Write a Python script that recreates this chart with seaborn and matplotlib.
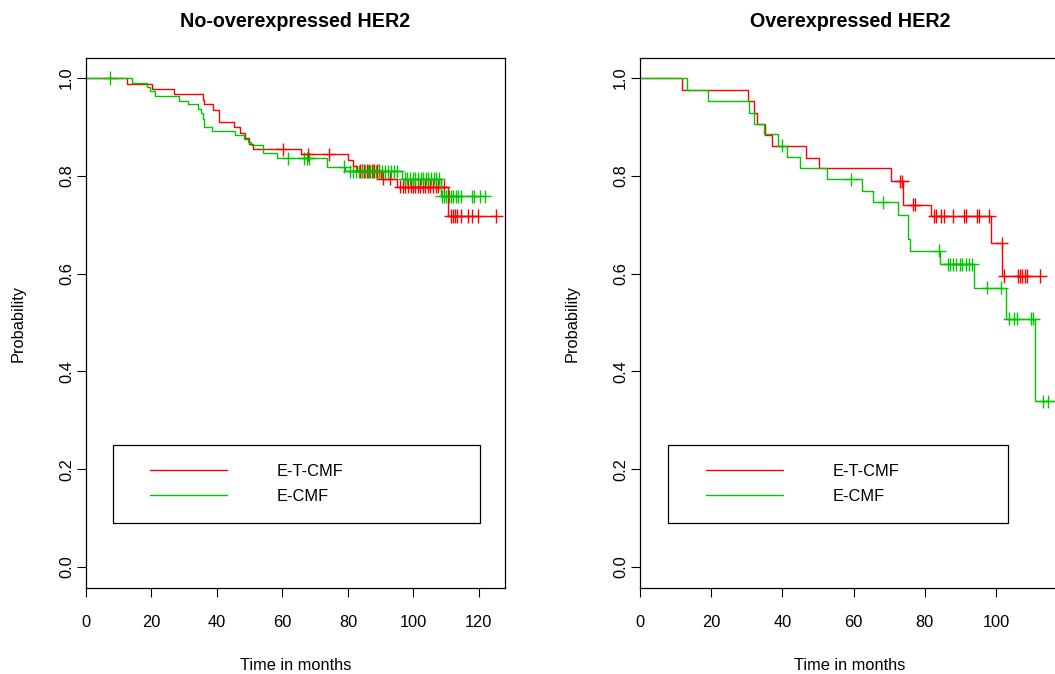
import numpy as np
import pandas as pd
import matplotlib
matplotlib.use("Agg")
import matplotlib.pyplot as plt
from matplotlib.patches import Rectangle
from matplotlib.lines import Line2D
import seaborn as sns

# ---------------- data ----------------
groups = ["E-T-CMF", "E-CMF"]
colors = {"E-T-CMF": "#FF0000", "E-CMF": "#00C800"}
titles = ["No-overexpressed HER2", "Overexpressed HER2"]

# Panel 1: No-overexpressed HER2
neg_etcmf_time = [0, 12.4, 20.3, 27.0, 35.8, 36.2, 38.8, 40.5, 45.1, 47.0, 48.7, 49.9, 51.0,
                  65.8, 80.1, 81.6, 82.8, 90.2, 95.0, 110.6]
neg_etcmf_surv = [1.0, 0.988, 0.977, 0.967, 0.956, 0.946, 0.934, 0.910, 0.899, 0.888, 0.877, 0.866, 0.854,
                  0.844, 0.832, 0.821, 0.810, 0.794, 0.778, 0.718]
neg_etcmf_cens = [60.1, 67.8, 74.1, 83.6, 84.3, 85.0, 85.8, 86.5, 87.3, 88.0, 88.8, 89.5, 90.6, 92.8,
                  96.0, 96.8, 97.6, 98.4, 99.2, 99.9, 100.6, 101.4, 102.1, 102.9, 103.6, 104.4, 105.2,
                  106.0, 106.8, 107.6, 108.5, 109.3, 111.4, 112.0, 112.7, 113.4, 114.7, 116.7, 117.8,
                  119.8, 125.4]

neg_ecmf_time = [0, 14.0, 18.6, 19.6, 21.2, 28.5, 31.2, 34.3, 35.0, 35.8, 36.1, 38.5, 45.6, 48.4,
                 49.5, 50.4, 54.1, 58.2, 73.7, 79.1, 96.4, 108.3]
neg_ecmf_surv = [1.0, 0.990, 0.982, 0.973, 0.963, 0.954, 0.946, 0.936, 0.928, 0.917, 0.900, 0.891, 0.884,
                 0.876, 0.870, 0.864, 0.846, 0.836, 0.819, 0.809, 0.794, 0.758]
neg_ecmf_cens = [7.4, 61.8, 66.6, 67.4, 68.2, 78.8, 80.6, 81.5, 82.4, 83.3, 84.2, 85.1, 86.0, 86.9,
                 87.8, 88.7, 89.6, 90.5, 91.4, 92.3, 93.2, 94.1, 95.0, 97.4, 98.2, 99.0, 99.8, 100.6,
                 101.4, 102.2, 103.0, 103.8, 104.6, 105.4, 106.2, 107.0, 107.8, 108.7, 109.4, 110.1,
                 110.8, 111.5, 112.2, 112.9, 113.6, 114.5, 117.8, 118.5, 120.3, 121.8]

# Panel 2: Overexpressed HER2
pos_etcmf_time = [0, 11.8, 30.4, 31.9, 33.0, 35.1, 37.1, 46.6, 50.2, 70.6, 74.0, 81.7, 98.6, 101.8]
pos_etcmf_surv = [1.0, 0.976, 0.953, 0.929, 0.907, 0.883, 0.860, 0.836, 0.815, 0.789, 0.741, 0.718,
                  0.662, 0.595]
pos_etcmf_cens = [73.1, 73.7, 76.8, 77.4, 82.7, 83.1, 84.7, 85.5, 87.8, 91.1, 91.7, 94.6, 95.3, 98.1,
                  101.6, 102.3, 106.1, 106.7, 107.4, 108.1, 108.8, 112.5]

pos_ecmf_time = [0, 13.1, 19.2, 30.7, 31.9, 34.7, 38.9, 41.3, 44.9, 52.4, 62.3, 65.5, 72.4, 75.4,
                 75.9, 84.4, 93.7, 102.8, 111.0]
pos_ecmf_surv = [1.0, 0.976, 0.953, 0.929, 0.907, 0.885, 0.862, 0.838, 0.816, 0.793, 0.768, 0.746,
                 0.720, 0.671, 0.647, 0.619, 0.571, 0.508, 0.339]
pos_ecmf_cens = [40.0, 59.3, 68.3, 84.1, 86.4, 87.1, 87.8, 88.8, 90.0, 90.6, 91.6, 92.3, 93.4, 97.6,
                 101.4, 103.7, 105.1, 106.0, 109.8, 110.5, 113.1, 114.5, 119.0]

yticks = [0.0, 0.2, 0.4, 0.6, 0.8, 1.0]
xticks = [0, 20, 40, 60, 80, 100, 120]
panel_xmax = [128, 118]

panels = [
    {"E-T-CMF": (neg_etcmf_time, neg_etcmf_surv, neg_etcmf_cens),
     "E-CMF": (neg_ecmf_time, neg_ecmf_surv, neg_ecmf_cens)},
    {"E-T-CMF": (pos_etcmf_time, pos_etcmf_surv, pos_etcmf_cens),
     "E-CMF": (pos_ecmf_time, pos_ecmf_surv, pos_ecmf_cens)},
]


def build_frames(panel):
    step_rows, cens_rows = [], []
    for g in groups:
        t, s, c = panel[g]
        t = np.asarray(t, float)
        s = np.asarray(s, float)
        c = np.asarray(c, float)
        end = max(t[-1], c.max())
        tt = np.append(t, end)
        ss = np.append(s, s[-1])
        step_rows.append(pd.DataFrame({"time": tt, "surv": ss, "group": g}))
        lvl = s[np.searchsorted(t, c, side="right") - 1]
        cens_rows.append(pd.DataFrame({"time": c, "surv": lvl, "group": g}))
    return pd.concat(step_rows, ignore_index=True), pd.concat(cens_rows, ignore_index=True)


# ---------------- style ----------------
sns.set_theme(style="white")
plt.rcParams["font.family"] = ["Liberation Sans", "DejaVu Sans"]
plt.rcParams["font.size"] = 11.8
plt.rcParams["text.color"] = "black"
plt.rcParams["axes.labelcolor"] = "black"
plt.rcParams["xtick.color"] = "black"
plt.rcParams["ytick.color"] = "black"

W, H = 1055, 674
fig = plt.figure(figsize=(W / 100, H / 100), dpi=100)
fig.patch.set_facecolor("white")

ax_boxes = [(86, 58, 419, 530), (640, 58, 420, 530)]  # left, top, width, height in px
legend_boxes = [(113, 445, 480, 523, 150), (668, 445, 1008, 523, 706)]

for i, panel in enumerate(panels):
    L, T, Wd, Ht = ax_boxes[i]
    ax = fig.add_axes([L / W, 1 - (T + Ht) / H, Wd / W, Ht / H])
    ax.set_facecolor("white")
    steps, cens = build_frames(panel)
    sns.lineplot(data=steps, x="time", y="surv", hue="group", palette=colors,
                 hue_order=groups, estimator=None, sort=False, drawstyle="steps-post",
                 lw=1.0, legend=False, ax=ax)
    sns.scatterplot(data=cens, x="time", y="surv", hue="group", palette=colors,
                    hue_order=groups, marker="+", s=90, linewidth=1.0, legend=False, ax=ax)

    ax.set_xlim(0, panel_xmax[i])
    ax.set_ylim(-0.043, 1.041)
    ax.set_xticks([x for x in xticks if x <= panel_xmax[i]])
    ax.set_yticks(yticks)
    ax.set_yticklabels([f"{v:.1f}" for v in yticks], rotation=90, va="center")
    ax.tick_params(axis="both", direction="out", length=6.7, width=0.8, color="black",
                   labelsize=11.8, labelcolor="black",
                   bottom=True, left=True, top=False, right=False)
    ax.tick_params(axis="x", pad=13)
    ax.tick_params(axis="y", pad=2)
    for sp in ax.spines.values():
        sp.set_color("black")
        sp.set_linewidth(0.9)
        sp.set_visible(True)

    ax.set_xlabel("Time in months", fontsize=11.8, color="black")
    ax.set_ylabel("Probability", fontsize=11.8, color="black")
    ax.xaxis.set_label_coords(0.5, -0.132)
    ax.yaxis.set_label_coords(-0.143, 0.5)
    ax.set_title(titles[i], fontsize=14.2, fontweight="bold", pad=22, color="black")

    # legend frame + entries
    bx0, by0, bx1, by1, hx = legend_boxes[i]
    fx0 = (bx0 - L) / Wd
    fx1 = (bx1 - L) / Wd
    fy0 = (T + Ht - by1) / Ht
    fy1 = (T + Ht - by0) / Ht
    ax.add_patch(Rectangle((fx0, fy0), fx1 - fx0, fy1 - fy0, transform=ax.transAxes,
                           fill=False, edgecolor="black", lw=0.9, zorder=5))
    handles = [Line2D([], [], color=colors[g], lw=1.0) for g in groups]
    leg = ax.legend(handles, groups, frameon=False, loc="center left",
                    bbox_to_anchor=((hx - L) / Wd, (fy0 + fy1) / 2), borderpad=0, borderaxespad=0,
                    handlelength=4.7, handletextpad=3.05, labelspacing=0.6, fontsize=11.8)
    for txt in leg.get_texts():
        txt.set_color("black")

fig.savefig("out.png", dpi=100, facecolor="white")
